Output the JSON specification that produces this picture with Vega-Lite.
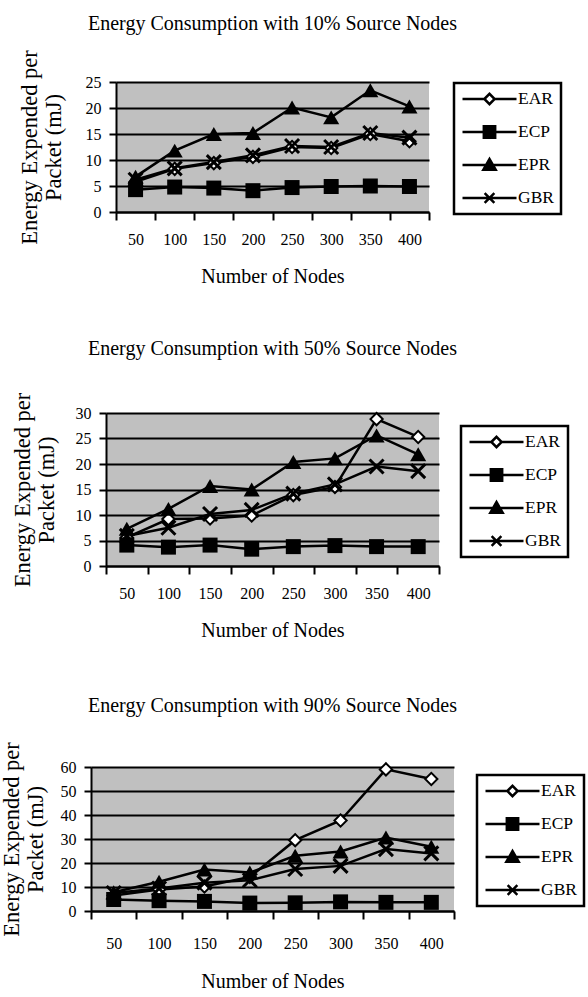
{
  "$schema": "https://vega.github.io/schema/vega-lite/v6.json",
  "background": "white",
  "padding": {"left": 0, "top": 13, "right": 0, "bottom": 0},
  "bounds": "flush",
  "center": true,
  "spacing": 201,
  "resolve": {
    "scale": {"shape": "independent", "fill": "independent"},
    "legend": {"shape": "independent", "fill": "independent"}
  },
  "config": {
    "font": "Liberation Serif",
    "view": {"fill": "#c0c0c0", "stroke": null},
    "axis": {
      "domainColor": "black", "domainWidth": 2,
      "tickColor": "black", "tickWidth": 2,
      "labelColor": "black", "labelFont": "Liberation Serif", "labelFontSize": 16,
      "titleFont": "Liberation Serif", "titleFontSize": 20, "titleFontWeight": "normal", "titleColor": "black"
    },
    "axisX": {"tickSize": 8, "labelPadding": 11, "labelAngle": 0, "titlePadding": 19, "grid": false, "tickBand": "extent"},
    "axisY": {"tickSize": 7, "labelPadding": 8, "grid": true, "gridColor": "black", "gridWidth": 2, "gridOpacity": 1,
              "titleFontSize": 22.5, "titleLineHeight": 24, "titlePadding": 13},
    "title": {"font": "Liberation Serif", "fontSize": 20, "fontWeight": "normal", "color": "black", "anchor": "middle", "frame": "group"},
    "legend": {
      "orient": "none", "direction": "vertical", "title": null,
      "symbolSize": 2916, "symbolStrokeWidth": 2.5, "symbolStrokeColor": "black", "symbolOpacity": 1,
      "labelFont": "Liberation Serif", "labelFontSize": 17.5, "labelColor": "black", "labelOffset": 0,
      "clipHeight": 18,
      "padding": 7, "rowPadding": 15, "strokeColor": "black", "strokeWidth": 2.5, "fillColor": "white", "cornerRadius": 0
    }
  },
  "datasets": {
    "p10": [
      {"nodes": 50, "series": "EAR", "value": 5.8}, {"nodes": 100, "series": "EAR", "value": 8.3}, {"nodes": 150, "series": "EAR", "value": 9.4}, {"nodes": 200, "series": "EAR", "value": 10.6},
      {"nodes": 250, "series": "EAR", "value": 12.5}, {"nodes": 300, "series": "EAR", "value": 12.3}, {"nodes": 350, "series": "EAR", "value": 15.0}, {"nodes": 400, "series": "EAR", "value": 13.6},
      {"nodes": 50, "series": "ECP", "value": 4.3}, {"nodes": 100, "series": "ECP", "value": 4.8}, {"nodes": 150, "series": "ECP", "value": 4.6}, {"nodes": 200, "series": "ECP", "value": 4.1},
      {"nodes": 250, "series": "ECP", "value": 4.7}, {"nodes": 300, "series": "ECP", "value": 4.9}, {"nodes": 350, "series": "ECP", "value": 5.0}, {"nodes": 400, "series": "ECP", "value": 4.9},
      {"nodes": 50, "series": "EPR", "value": 6.8}, {"nodes": 100, "series": "EPR", "value": 11.8}, {"nodes": 150, "series": "EPR", "value": 15.0}, {"nodes": 200, "series": "EPR", "value": 15.2},
      {"nodes": 250, "series": "EPR", "value": 20.1}, {"nodes": 300, "series": "EPR", "value": 18.2}, {"nodes": 350, "series": "EPR", "value": 23.4}, {"nodes": 400, "series": "EPR", "value": 20.3},
      {"nodes": 50, "series": "GBR", "value": 6.2}, {"nodes": 100, "series": "GBR", "value": 8.4}, {"nodes": 150, "series": "GBR", "value": 9.6}, {"nodes": 200, "series": "GBR", "value": 10.9},
      {"nodes": 250, "series": "GBR", "value": 12.7}, {"nodes": 300, "series": "GBR", "value": 12.5}, {"nodes": 350, "series": "GBR", "value": 15.2}, {"nodes": 400, "series": "GBR", "value": 14.3}
    ],
    "p50": [
      {"nodes": 50, "series": "EAR", "value": 5.6}, {"nodes": 100, "series": "EAR", "value": 9.2}, {"nodes": 150, "series": "EAR", "value": 9.3}, {"nodes": 200, "series": "EAR", "value": 9.9},
      {"nodes": 250, "series": "EAR", "value": 13.9}, {"nodes": 300, "series": "EAR", "value": 15.5}, {"nodes": 350, "series": "EAR", "value": 28.8}, {"nodes": 400, "series": "EAR", "value": 25.3},
      {"nodes": 50, "series": "ECP", "value": 4.1}, {"nodes": 100, "series": "ECP", "value": 3.7}, {"nodes": 150, "series": "ECP", "value": 4.1}, {"nodes": 200, "series": "ECP", "value": 3.3},
      {"nodes": 250, "series": "ECP", "value": 3.8}, {"nodes": 300, "series": "ECP", "value": 4.0}, {"nodes": 350, "series": "ECP", "value": 3.8}, {"nodes": 400, "series": "ECP", "value": 3.8},
      {"nodes": 50, "series": "EPR", "value": 7.3}, {"nodes": 100, "series": "EPR", "value": 11.2}, {"nodes": 150, "series": "EPR", "value": 15.7}, {"nodes": 200, "series": "EPR", "value": 15.0},
      {"nodes": 250, "series": "EPR", "value": 20.4}, {"nodes": 300, "series": "EPR", "value": 21.1}, {"nodes": 350, "series": "EPR", "value": 25.6}, {"nodes": 400, "series": "EPR", "value": 21.9},
      {"nodes": 50, "series": "GBR", "value": 5.9}, {"nodes": 100, "series": "GBR", "value": 7.5}, {"nodes": 150, "series": "GBR", "value": 10.2}, {"nodes": 200, "series": "GBR", "value": 11.0},
      {"nodes": 250, "series": "GBR", "value": 14.2}, {"nodes": 300, "series": "GBR", "value": 16.0}, {"nodes": 350, "series": "GBR", "value": 19.5}, {"nodes": 400, "series": "GBR", "value": 18.6}
    ],
    "p90": [
      {"nodes": 50, "series": "EAR", "value": 6.5}, {"nodes": 100, "series": "EAR", "value": 9.0}, {"nodes": 150, "series": "EAR", "value": 10.2}, {"nodes": 200, "series": "EAR", "value": 14.2},
      {"nodes": 250, "series": "EAR", "value": 29.5}, {"nodes": 300, "series": "EAR", "value": 37.7}, {"nodes": 350, "series": "EAR", "value": 59.0}, {"nodes": 400, "series": "EAR", "value": 55.0},
      {"nodes": 50, "series": "ECP", "value": 4.8}, {"nodes": 100, "series": "ECP", "value": 4.3}, {"nodes": 150, "series": "ECP", "value": 4.0}, {"nodes": 200, "series": "ECP", "value": 3.3},
      {"nodes": 250, "series": "ECP", "value": 3.4}, {"nodes": 300, "series": "ECP", "value": 3.8}, {"nodes": 350, "series": "ECP", "value": 3.6}, {"nodes": 400, "series": "ECP", "value": 3.6},
      {"nodes": 50, "series": "EPR", "value": 7.8}, {"nodes": 100, "series": "EPR", "value": 12.2}, {"nodes": 150, "series": "EPR", "value": 17.3}, {"nodes": 200, "series": "EPR", "value": 16.0},
      {"nodes": 250, "series": "EPR", "value": 23.0}, {"nodes": 300, "series": "EPR", "value": 24.8}, {"nodes": 350, "series": "EPR", "value": 30.6}, {"nodes": 400, "series": "EPR", "value": 26.8},
      {"nodes": 50, "series": "GBR", "value": 7.5}, {"nodes": 100, "series": "GBR", "value": 9.4}, {"nodes": 150, "series": "GBR", "value": 11.8}, {"nodes": 200, "series": "GBR", "value": 12.8},
      {"nodes": 250, "series": "GBR", "value": 17.5}, {"nodes": 300, "series": "GBR", "value": 18.8}, {"nodes": 350, "series": "GBR", "value": 25.8}, {"nodes": 400, "series": "GBR", "value": 24.0}
    ]
  },
  "vconcat": [
    {
      "width": 313, "height": 130,
      "title": {"text": "Energy Consumption with 10% Source Nodes", "offset": 16},
      "data": {"name": "p10"},
      "encoding": {
        "x": {"field": "nodes", "type": "ordinal", "scale": {"type": "band", "paddingInner": 0, "paddingOuter": 0},
              "axis": {"title": "Number of Nodes", "tickBand": "extent"}},
        "y": {"field": "value", "type": "quantitative", "scale": {"domain": [0, 25], "nice": false},
              "axis": {"values": [0, 5, 10, 15, 20, 25], "title": ["Energy Expended per", "Packet (mJ)"], "titlePadding": 20}}
      },
      "layer": [
        {"mark": {"type": "line", "color": "black", "strokeWidth": 2.5}, "encoding": {"detail": {"field": "series"}}},
        {"transform": [{"filter": {"field": "series", "equal": "EAR"}}], "mark": {"type": "point", "shape": "diamond", "filled": true, "fill": "white", "stroke": "black", "strokeWidth": 2, "size": 150, "opacity": 1}},
        {"transform": [{"filter": {"field": "series", "equal": "ECP"}}], "mark": {"type": "point", "shape": "square", "filled": true, "fill": "black", "size": 225, "opacity": 1}},
        {"transform": [{"filter": {"field": "series", "equal": "EPR"}}], "mark": {"type": "point", "shape": "triangle-up", "filled": true, "fill": "black", "size": 260, "opacity": 1}},
        {"transform": [{"filter": {"field": "series", "equal": "GBR"}}], "mark": {"type": "point", "shape": "M-1,-1L1,1M-1,1L1,-1", "filled": false, "stroke": "black", "strokeWidth": 3, "size": 196, "opacity": 1}},
        {"transform": [{"filter": {"field": "series", "equal": "none"}}],
         "mark": {"type": "point", "filled": true, "stroke": "black", "strokeWidth": 2.5, "opacity": 1},
         "encoding": {
           "shape": {"field": "series", "type": "nominal",
                     "scale": {"domain": ["EAR", "ECP", "EPR", "GBR"], "range": ["M-1,0L-0.19,0M0.19,0L1,0M-0.19,0L0,-0.19L0.19,0L0,0.19Z", "M-1,0L1,0M-0.21,-0.21L0.21,-0.21L0.21,0.21L-0.21,0.21Z", "M-1,0L1,0M-0.23,0.18L0,-0.22L0.23,0.18Z", "M-1,0L1,0M-0.18,-0.18L0.18,0.18M-0.18,0.18L0.18,-0.18"]},
                     "legend": {"legendX": 338, "legendY": 1, "encode": {"symbols": {"update": {"stroke": {"value": "black"}, "strokeWidth": {"value": 2.5}}}}}},
           "fill": {"field": "series", "type": "nominal",
                    "scale": {"domain": ["EAR", "ECP", "EPR", "GBR"], "range": ["white", "black", "black", "black"]},
                    "legend": {"legendX": 338, "legendY": 1, "encode": {"symbols": {"update": {"stroke": {"value": "black"}, "strokeWidth": {"value": 2.5}}}}}}
         }}
      ]
    },
    {
      "width": 333, "height": 153,
      "title": {"text": "Energy Consumption with 50% Source Nodes", "offset": 33},
      "data": {"name": "p50"},
      "encoding": {
        "x": {"field": "nodes", "type": "ordinal", "scale": {"type": "band", "paddingInner": 0, "paddingOuter": 0},
              "axis": {"title": "Number of Nodes", "tickBand": "extent"}},
        "y": {"field": "value", "type": "quantitative", "scale": {"domain": [0, 30], "nice": false},
              "axis": {"values": [0, 5, 10, 15, 20, 25, 30], "title": ["Energy Expended per", "Packet (mJ)"], "titlePadding": 17}}
      },
      "layer": [
        {"mark": {"type": "line", "color": "black", "strokeWidth": 2.5}, "encoding": {"detail": {"field": "series"}}},
        {"transform": [{"filter": {"field": "series", "equal": "EAR"}}], "mark": {"type": "point", "shape": "diamond", "filled": true, "fill": "white", "stroke": "black", "strokeWidth": 2, "size": 150, "opacity": 1}},
        {"transform": [{"filter": {"field": "series", "equal": "ECP"}}], "mark": {"type": "point", "shape": "square", "filled": true, "fill": "black", "size": 225, "opacity": 1}},
        {"transform": [{"filter": {"field": "series", "equal": "EPR"}}], "mark": {"type": "point", "shape": "triangle-up", "filled": true, "fill": "black", "size": 260, "opacity": 1}},
        {"transform": [{"filter": {"field": "series", "equal": "GBR"}}], "mark": {"type": "point", "shape": "M-1,-1L1,1M-1,1L1,-1", "filled": false, "stroke": "black", "strokeWidth": 3, "size": 196, "opacity": 1}},
        {"transform": [{"filter": {"field": "series", "equal": "none"}}],
         "mark": {"type": "point", "filled": true, "stroke": "black", "strokeWidth": 2.5, "opacity": 1},
         "encoding": {
           "shape": {"field": "series", "type": "nominal",
                     "scale": {"domain": ["EAR", "ECP", "EPR", "GBR"], "range": ["M-1,0L-0.19,0M0.19,0L1,0M-0.19,0L0,-0.19L0.19,0L0,0.19Z", "M-1,0L1,0M-0.21,-0.21L0.21,-0.21L0.21,0.21L-0.21,0.21Z", "M-1,0L1,0M-0.23,0.18L0,-0.22L0.23,0.18Z", "M-1,0L1,0M-0.18,-0.18L0.18,0.18M-0.18,0.18L0.18,-0.18"]},
                     "legend": {"legendX": 355, "legendY": 13, "encode": {"symbols": {"update": {"stroke": {"value": "black"}, "strokeWidth": {"value": 2.5}}}}}},
           "fill": {"field": "series", "type": "nominal",
                    "scale": {"domain": ["EAR", "ECP", "EPR", "GBR"], "range": ["white", "black", "black", "black"]},
                    "legend": {"legendX": 355, "legendY": 13, "encode": {"symbols": {"update": {"stroke": {"value": "black"}, "strokeWidth": {"value": 2.5}}}}}}
         }}
      ]
    },
    {
      "width": 363, "height": 144,
      "title": {"text": "Energy Consumption with 90% Source Nodes", "offset": 26},
      "data": {"name": "p90"},
      "encoding": {
        "x": {"field": "nodes", "type": "ordinal", "scale": {"type": "band", "paddingInner": 0, "paddingOuter": 0},
              "axis": {"title": "Number of Nodes", "tickBand": "extent", "labelPadding": 16, "titlePadding": 20}},
        "y": {"field": "value", "type": "quantitative", "scale": {"domain": [0, 60], "nice": false},
              "axis": {"values": [0, 10, 20, 30, 40, 50, 60], "title": ["Energy Expended per", "Packet (mJ)"]}}
      },
      "layer": [
        {"mark": {"type": "line", "color": "black", "strokeWidth": 2.5}, "encoding": {"detail": {"field": "series"}}},
        {"transform": [{"filter": {"field": "series", "equal": "EAR"}}], "mark": {"type": "point", "shape": "diamond", "filled": true, "fill": "white", "stroke": "black", "strokeWidth": 2, "size": 150, "opacity": 1}},
        {"transform": [{"filter": {"field": "series", "equal": "ECP"}}], "mark": {"type": "point", "shape": "square", "filled": true, "fill": "black", "size": 225, "opacity": 1}},
        {"transform": [{"filter": {"field": "series", "equal": "EPR"}}], "mark": {"type": "point", "shape": "triangle-up", "filled": true, "fill": "black", "size": 260, "opacity": 1}},
        {"transform": [{"filter": {"field": "series", "equal": "GBR"}}], "mark": {"type": "point", "shape": "M-1,-1L1,1M-1,1L1,-1", "filled": false, "stroke": "black", "strokeWidth": 3, "size": 196, "opacity": 1}},
        {"transform": [{"filter": {"field": "series", "equal": "none"}}],
         "mark": {"type": "point", "filled": true, "stroke": "black", "strokeWidth": 2.5, "opacity": 1},
         "encoding": {
           "shape": {"field": "series", "type": "nominal",
                     "scale": {"domain": ["EAR", "ECP", "EPR", "GBR"], "range": ["M-1,0L-0.19,0M0.19,0L1,0M-0.19,0L0,-0.19L0.19,0L0,0.19Z", "M-1,0L1,0M-0.21,-0.21L0.21,-0.21L0.21,0.21L-0.21,0.21Z", "M-1,0L1,0M-0.23,0.18L0,-0.22L0.23,0.18Z", "M-1,0L1,0M-0.18,-0.18L0.18,0.18M-0.18,0.18L0.18,-0.18"]},
                     "legend": {"legendX": 386, "legendY": 8, "encode": {"symbols": {"update": {"stroke": {"value": "black"}, "strokeWidth": {"value": 2.5}}}}}},
           "fill": {"field": "series", "type": "nominal",
                    "scale": {"domain": ["EAR", "ECP", "EPR", "GBR"], "range": ["white", "black", "black", "black"]},
                    "legend": {"legendX": 386, "legendY": 8, "encode": {"symbols": {"update": {"stroke": {"value": "black"}, "strokeWidth": {"value": 2.5}}}}}}
         }}
      ]
    }
  ]
}
